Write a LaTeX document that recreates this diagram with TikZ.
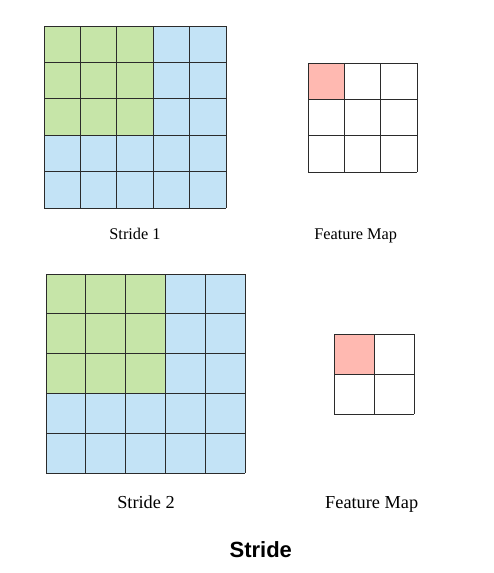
\documentclass[tikz,border=0pt]{standalone}
\usepackage{fontspec}
\setmainfont{Liberation Serif}
\newfontfamily\titlefont{Liberation Sans}
\definecolor{cellgreen}{HTML}{C6E5A8}
\definecolor{cellblue}{HTML}{C3E3F6}
\definecolor{cellpink}{HTML}{FFB9B1}
\definecolor{linegray}{HTML}{2B2B2B}
\tikzset{
  gridline/.style={draw=linegray, line width=1pt},
  toplabel/.style={anchor=base, inner sep=0pt, font=\fontsize{16.3}{19}\selectfont},
  botlabel/.style={anchor=base, inner sep=0pt, font=\fontsize{18.3}{22}\selectfont},
  titlelabel/.style={anchor=base, inner sep=0pt, font=\titlefont\bfseries\fontsize{22}{26}\selectfont}
}
\begin{document}
\begin{tikzpicture}[x=1pt,y=-1pt]
\useasboundingbox[fill=white] (0,0) rectangle (493,573);
% ---- Stride 1 input grid
\fill[cellblue] (44,26) rectangle (226,208);
\fill[cellgreen] (44,26) rectangle (153.2,135.2);
\foreach \i in {0,...,5} {
  \draw[gridline] ({44+36.4*\i},26) -- ({44+36.4*\i},208);
  \draw[gridline] (44,{26+36.4*\i}) -- (226,{26+36.4*\i});
}
% ---- Feature map 1
\fill[cellpink] (308,63) rectangle (344.4,99.4);
\foreach \i in {0,...,3} {
  \draw[gridline] ({308+36.4*\i},63) -- ({308+36.4*\i},172.2);
  \draw[gridline] (308,{63+36.4*\i}) -- (417.2,{63+36.4*\i});
}
% ---- Stride 2 input grid
\fill[cellblue] (46,274) rectangle (245,473);
\fill[cellgreen] (46,274) rectangle (165.4,393.4);
\foreach \i in {0,...,5} {
  \draw[gridline] ({46+39.8*\i},274) -- ({46+39.8*\i},473);
  \draw[gridline] (46,{274+39.8*\i}) -- (245,{274+39.8*\i});
}
% ---- Feature map 2
\fill[cellpink] (334,334) rectangle (374,374);
\foreach \i in {0,...,2} {
  \draw[gridline] ({334+40*\i},334) -- ({334+40*\i},414);
  \draw[gridline] (334,{334+40*\i}) -- (414,{334+40*\i});
}
% ---- labels
\node[toplabel] (s1) at (135,239.5) {Stride 1};
\node[toplabel] (fm1) at (355.7,239.5) {Feature Map};
\node[botlabel] (s2) at (146,508) {Stride 2};
\node[botlabel] (fm2) at (371.7,508) {Feature Map};
\node[titlelabel] (title) at (260.8,557) {Stride};
\end{tikzpicture}
\end{document}
